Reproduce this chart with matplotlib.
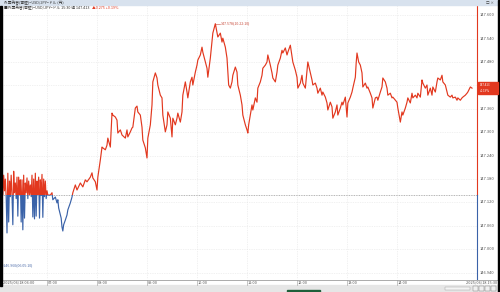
import matplotlib
matplotlib.use('Agg')
import matplotlib.pyplot as plt
from matplotlib.patches import Rectangle
import numpy as np

plt.rcParams['font.family'] = ['Noto Sans CJK JP', 'DejaVu Sans']

# ---- data: minutes after 06:00 and price (USD/JPY) ----
minutes = [6, 7, 8, 9, 10, 11, 12, 13, 14, 15, 16, 17, 18, 19, 20, 21, 22, 23, 24, 25,
           26, 27, 28, 29, 30, 31, 32, 33, 34, 35, 36, 37, 38, 39, 40, 41, 42, 43, 44, 45,
           46, 47, 48, 49, 50, 51, 52, 53, 54, 55, 56, 57, 58, 59, 60, 61,
           64, 66, 67, 70, 72, 73, 74, 77, 78, 79, 80, 82, 84, 85, 88, 90, 91,
           94, 96, 100, 103, 106, 108, 112, 114, 115, 118, 120, 121, 124, 126, 127, 130,
           132, 133, 136, 138, 139, 142, 144, 145, 148, 150, 154, 156, 157, 160, 162, 163,
           166, 168, 169, 172, 174, 175, 178, 180, 181, 184, 186, 187, 190, 192, 193, 196,
           198, 199, 202, 204, 205, 208, 210, 211, 214, 216, 217, 220, 222, 223, 226, 228,
           229, 232, 234, 235, 238, 240, 241, 244, 246, 247, 250, 252, 253, 256, 258, 259,
           262, 264, 265, 268, 270, 271, 274, 276, 277, 278, 280, 282, 283, 286, 288, 289,
           292, 294, 295, 298, 300, 301, 302, 304, 306, 307, 310, 312, 313, 316, 318, 319,
           322, 324, 325, 328, 330, 331, 334, 336, 337, 340, 342, 343, 346, 348, 349, 352,
           354, 355, 358, 360, 361, 364, 366, 367, 370, 372, 373, 376, 378, 379, 382, 384,
           385, 388, 390, 391, 394, 396, 397, 400, 402, 403, 406, 408, 409, 412, 414, 415,
           418, 420, 421, 424, 426, 427, 430, 431, 432, 434, 436, 438, 439, 442, 444, 445,
           448, 450, 451, 454, 456, 457, 460, 462, 463, 466, 468, 469, 472, 474, 475, 478,
           480, 481, 484, 486, 487, 490, 492, 493, 496, 498, 499, 502, 504, 505, 508, 510,
           511, 514, 516, 517, 520, 522, 523, 526, 528, 529, 532, 534, 535, 538, 540, 541,
           544, 546, 547, 550, 552, 553, 556, 558, 559, 562, 564, 565, 568, 570]
price = [147.185, 147.140, 147.190, 147.150, 147.180, 147.135, 147.042, 147.195, 147.070, 147.175,
         147.135, 147.190, 147.140, 147.063, 147.200, 147.145, 147.170, 147.130, 147.185, 147.085,
         147.185, 147.140, 147.178, 147.070, 147.178, 147.050, 147.190, 147.080, 147.170, 147.145,
         147.183, 147.130, 147.175, 147.140, 147.165, 147.135, 147.190, 147.083, 147.180, 147.078,
         147.195, 147.085, 147.175, 147.140, 147.185, 147.080, 147.178, 147.138, 147.192, 147.082,
         147.180, 147.135, 147.175, 147.130, 147.150, 147.139,
         147.139, 147.145, 147.127, 147.134, 147.119, 147.127, 147.106, 147.080, 147.057, 147.047,
         147.063, 147.075, 147.088, 147.101, 147.119, 147.134, 147.145,
         147.165, 147.152, 147.170, 147.160, 147.178, 147.173, 147.185, 147.196, 147.183, 147.173,
         147.152, 147.185, 147.229, 147.262, 147.260, 147.255, 147.267, 147.285, 147.262, 147.349,
         147.344, 147.339, 147.331, 147.298, 147.306, 147.293, 147.285, 147.306, 147.288, 147.301,
         147.311, 147.313, 147.362, 147.367, 147.352, 147.344, 147.313, 147.280, 147.260, 147.234,
         147.285, 147.319, 147.370, 147.429, 147.452, 147.439, 147.421, 147.395, 147.388, 147.344,
         147.301, 147.319, 147.352, 147.336, 147.288, 147.336, 147.319, 147.336, 147.349, 147.326,
         147.352, 147.395, 147.429, 147.403, 147.388, 147.429, 147.441, 147.421, 147.454, 147.472,
         147.485, 147.498, 147.518, 147.505, 147.480, 147.464, 147.441, 147.490, 147.531, 147.554,
         147.578, 147.556, 147.544, 147.554, 147.531, 147.541, 147.518, 147.490, 147.454, 147.421,
         147.413, 147.429, 147.446, 147.467, 147.454, 147.421, 147.395, 147.370, 147.344, 147.319,
         147.306, 147.298, 147.319, 147.344, 147.370, 147.357, 147.388, 147.377, 147.413, 147.429,
         147.446, 147.464, 147.472, 147.480, 147.498, 147.472, 147.452, 147.439, 147.429, 147.454,
         147.472, 147.490, 147.510, 147.503, 147.516, 147.498, 147.505, 147.523, 147.493, 147.480,
         147.459, 147.441, 147.413, 147.426, 147.446, 147.426, 147.413, 147.459, 147.480, 147.452,
         147.434, 147.421, 147.426, 147.413, 147.400, 147.413, 147.395, 147.403, 147.390, 147.375,
         147.357, 147.377, 147.365, 147.336, 147.352, 147.370, 147.344, 147.362, 147.377, 147.370,
         147.390, 147.339, 147.375, 147.390, 147.403, 147.413, 147.441, 147.477, 147.503, 147.480,
         147.472, 147.452, 147.416, 147.426, 147.413, 147.416, 147.400, 147.388, 147.362, 147.388,
         147.390, 147.382, 147.403, 147.416, 147.439, 147.429, 147.413, 147.395, 147.400, 147.388,
         147.390, 147.382, 147.377, 147.362, 147.326, 147.352, 147.344, 147.362, 147.377, 147.388,
         147.375, 147.400, 147.388, 147.395, 147.388, 147.400, 147.390, 147.434, 147.426, 147.413,
         147.421, 147.395, 147.413, 147.395, 147.416, 147.403, 147.429, 147.439, 147.434, 147.446,
         147.429, 147.421, 147.403, 147.395, 147.390, 147.395, 147.388, 147.390, 147.382, 147.388,
         147.382, 147.388, 147.390, 147.395, 147.400, 147.403, 147.416, 147.413]

base_price = 147.139
last_price = '147.413'
last_change = '+0.19%'
max_label = '147.578(10:22:10)'
max_minute, max_price = 262, 147.578
min_label = '146.960(06:05:10)'
min_price = 146.960

y_ticks = [146.94, 147.00, 147.06, 147.12, 147.18, 147.24, 147.30, 147.36, 147.42, 147.48, 147.54, 147.60]
y_tick_labels = ['146.940', '147.000', '147.060', '147.120', '147.180', '147.240', '147.300',
                 '147.360', '147.420', '147.480', '147.540', '147.600']
hour_ticks = [0, 60, 120, 180, 240, 300, 360, 420, 480]
hour_labels = ['2025/06/18 06:00', '07:00', '08:00', '09:00', '10:00', '11:00', '12:00', '13:00', '14:00']
end_label = '2025/06/18 15:30'

title1 = '外国為替(東証)=USD/JPY=ドル (円)'
title2 = '■外国為替(東証)=USD/JPY=ドル 15:30 値 147.413'
title2_chg = '▲0.275 +0.19%'

RED = '#e2381f'
BLUE = '#3a62a8'

W, H = 500, 292
fig = plt.figure(figsize=(W / 100, H / 100), dpi=100)


def fx(x):
    return x / W


def fy(y):
    return 1 - y / H


# axes area in pixels
ax_l, ax_r, ax_t, ax_b = 2, 477, 5, 279
ax = fig.add_axes([fx(ax_l), fy(ax_b), (ax_r - ax_l) / W, (ax_b - ax_t) / H])
ax.set_xlim(6, 576)
ax.set_ylim(146.924, 147.626)
for s in ax.spines.values():
    s.set_visible(False)
ax.set_xticks([])
ax.set_yticks([])

# grid
for t in y_ticks:
    ax.axhline(t, color='#e4e4e4', lw=0.5, ls=(0, (1, 1.5)), zorder=0)
for t in hour_ticks[1:]:
    ax.axvline(t, color='#e4e4e4', lw=0.5, ls=(0, (1, 1.5)), zorder=0)

# baseline
ax.axhline(base_price, color='#888888', lw=0.5, ls=(0, (1.2, 1.2)), zorder=1)

# price line: red above baseline, blue below
l_red, = ax.plot(minutes, price, color=RED, lw=0.85, zorder=3)
l_blue, = ax.plot(minutes, price, color=BLUE, lw=0.85, zorder=3)
r_up = Rectangle((0, base_price), 1000, 10, transform=ax.transData)
r_dn = Rectangle((0, base_price - 10), 1000, 10, transform=ax.transData)
l_red.set_clip_path(r_up)
l_blue.set_clip_path(r_dn)

# right axis line colored
ax.plot([1, 1], [base_price, 147.626], color=RED, lw=0.8, transform=ax.get_yaxis_transform(), clip_on=False)
ax.plot([1, 1], [146.924, base_price], color=BLUE, lw=0.8, transform=ax.get_yaxis_transform(), clip_on=False)

# max / min annotations
ax.plot([max_minute, max_minute + 6], [max_price, max_price], color='#c84a3a', lw=0.4)
ax.text(max_minute + 6.5, max_price, max_label, fontsize=2.6, color='#c84a3a', va='center', ha='left')
ax.text(7, min_price, '-' + min_label, fontsize=2.6, color='#4a6aa8', va='center', ha='left')

# last price box position
lp = float(last_price)
yb = ax.transData.transform((0, lp))[1]
ybf = yb / fig.bbox.height
box_h = 12 / H

# y tick labels (the one hidden under the last-price box is not drawn)
ax_h_px = ax.bbox.height
for t, lab in zip(y_ticks, y_tick_labels):
    tpx = ax.transData.transform((0, t))[1]
    if abs(tpx - yb) < 9:
        continue
    ax.text(1.006, t, lab, transform=ax.get_yaxis_transform(), fontsize=2.9, color='#555555',
            va='center', ha='left')

fig.patches.append(Rectangle((fx(478), ybf - box_h / 2), 20 / W, box_h, transform=fig.transFigure,
                             color=RED, zorder=5))
fig.text(fx(480), ybf + 3.0 / H, last_price, fontsize=2.1, color='white', va='center', ha='left', zorder=6)
fig.text(fx(480), ybf - 3.0 / H, last_change, fontsize=2.1, color='white', va='center', ha='left', zorder=6)

# x tick label strip
fig.lines.append(plt.Line2D([fx(2), fx(500)], [fy(279.5), fy(279.5)], transform=fig.transFigure,
                            color='#8a8a8a', lw=0.5))
for t, lab in zip(hour_ticks, hour_labels):
    xp = max(t, 6)
    xf = fig.transFigure.inverted().transform(ax.transData.transform((xp, 0)))[0]
    fig.text(xf + 1 / W, fy(282.5), lab, fontsize=2.8, color='#555555', va='center', ha='left')
    fig.lines.append(plt.Line2D([xf, xf], [fy(280), fy(285)], transform=fig.transFigure,
                                color='#9a9a9a', lw=0.4))
fig.text(fx(497), fy(282.5), end_label, fontsize=2.8, color='#555555', va='center', ha='right')

# scrollbar
fig.patches.append(Rectangle((0, 0), 1, 7 / H, transform=fig.transFigure, color='#e6e6e6', zorder=1))
fig.patches.append(Rectangle((fx(287), 0), 33 / W, 2 / H, transform=fig.transFigure, color='#1f5f3a', zorder=2))
fig.patches.append(Rectangle((fx(445), fy(290)), 25 / W, 3 / H, transform=fig.transFigure,
                             facecolor='#f4f4f4', edgecolor='#9a9a9a', lw=0.3, zorder=2))
for i in range(4):
    fig.patches.append(Rectangle((fx(473 + i * 6), fy(291)), 5 / W, 5 / H, transform=fig.transFigure,
                                 facecolor='#f0f0f0', edgecolor='#777777', lw=0.3, zorder=2))

# header bar
fig.patches.append(Rectangle((0, fy(5)), 1, 5 / H, transform=fig.transFigure, color='#d8e2ee', zorder=1))
fig.text(fx(4), fy(2.6), title1, fontsize=2.7, color='#333333', va='center', ha='left')
t2 = fig.text(fx(4), fy(8), title2, fontsize=2.7, color='#333333', va='center', ha='left')
fig.canvas.draw()
bb = t2.get_window_extent(renderer=fig.canvas.get_renderer())
fig.text((bb.x1 + 2) / fig.bbox.width, fy(8), title2_chg, fontsize=2.7, color=RED, va='center', ha='left')
fig.text(fx(494), fy(2.6), '□ ×', fontsize=2.6, color='#444444', va='center', ha='right')

# black side borders
fig.patches.append(Rectangle((0, fy(286)), 2 / W, 280 / H, transform=fig.transFigure, color='black', zorder=4))
fig.patches.append(Rectangle((fx(498), 0), 2 / W, 1, transform=fig.transFigure, color='black', zorder=4))

fig.savefig('out.png', dpi=100)
